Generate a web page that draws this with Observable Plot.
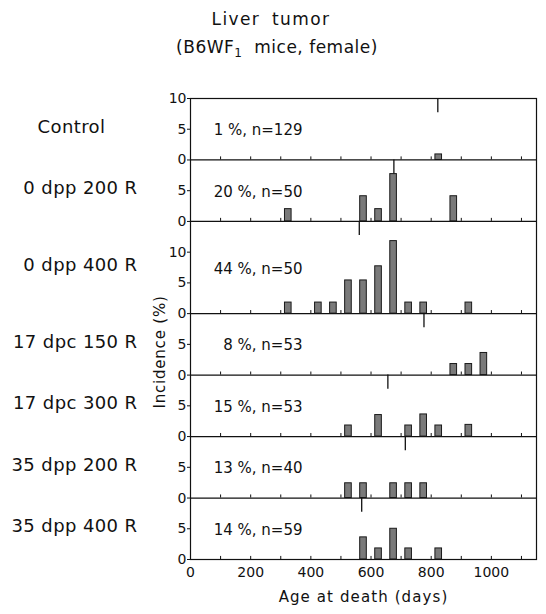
<!DOCTYPE html>
<html>
<head>
<meta charset="utf-8">
<script src="https://cdn.jsdelivr.net/npm/d3@7"></script>
<script src="https://cdn.jsdelivr.net/npm/@observablehq/plot@0.6"></script>
<style>
  html, body { margin: 0; padding: 0; background: #fff; }
  body { width: 546px; height: 614px; overflow: hidden; font-family: "DejaVu Sans", sans-serif; color: #111; }
  #title { position: relative; height: 80px; width: 546px; }
  #title div { position: absolute; left: 0; width: 546px; text-align: center; font-size: 17px; line-height: 20px; }
  #t1 { top: 9px; margin-left: -2px; letter-spacing: 1.4px; word-spacing: 5px; }
  #t2 { top: 37px; margin-left: 4px; letter-spacing: 0.5px; }
  #t2 sub { font-size: 12px; vertical-align: -4px; line-height: 0; }
  #chart svg { display: block; }
</style>
</head>
<body>
<div id="title">
  <div id="t1">Liver tumor</div>
  <div id="t2">(B6WF<sub>1</sub>&nbsp; mice, female)</div>
</div>
<div id="chart"></div>
<script>
// ---- data ----
const groups = ["Control", "0 dpp 200 R", "0 dpp 400 R", "17 dpc 150 R", "17 dpc 300 R", "35 dpp 200 R", "35 dpp 400 R"];
const panelTop = [10, 10, 15, 10, 10, 10, 10];          // y-domain top of each panel (%)
const notes = ["1 %, n=129", "20 %, n=50", "44 %, n=50", "8 %, n=53", "15 %, n=53", "13 %, n=40", "14 %, n=59"];
const medianAge = [822, 676, 561, 776, 656, 714, 569];   // marker lines hanging from panel tops (days)
const ages = [
  [825],
  [325, 575, 625, 675, 875],
  [325, 425, 475, 525, 575, 625, 675, 725, 775, 925],
  [875, 925, 975],
  [525, 625, 725, 775, 825, 925],
  [525, 575, 675, 725, 775],
  [575, 625, 675, 725, 825]
];
const incidence = [
  [0.9],
  [2.0, 4.1, 2.0, 7.7, 4.1],
  [1.8, 1.8, 1.8, 5.4, 5.4, 7.7, 11.8, 1.8, 1.8, 1.8],
  [1.8, 1.8, 3.6],
  [1.8, 3.5, 1.8, 3.6, 1.8, 1.9],
  [2.4, 2.4, 2.4, 2.4, 2.4],
  [3.6, 1.8, 5.0, 1.8, 1.8]
];
const xTickLabels = [0, 200, 400, 600, 800, 1000];
const minorTicks = [100, 200, 300, 400, 500, 600, 700, 800, 900, 1000, 1100];
const yTickValues = [0, 5, 10];
const xDomain = [0, 1150];

// ---- derived tables ----
const offset = groups.map((_, i) => d3.sum(panelTop.slice(i + 1)));
const total = d3.sum(panelTop);
const halfBar = 11;
const bars = ages.flatMap((a, i) => a.map((age, k) => ({age, pct: incidence[i][k], base: offset[i]})));
const yTicks = groups.flatMap((g, i) =>
  yTickValues.filter(v => v < panelTop[i] || i === 0).map(v => ({pos: offset[i] + v, label: v})));
const yLabel = new Map(yTicks.map(d => [d.pos, d.label]));
const minor = groups.flatMap((g, i) => minorTicks.map(t => ({t, base: offset[i]})));
const panels = groups.map((g, i) => ({
  name: g, note: notes[i], med: medianAge[i],
  base: offset[i], top: offset[i] + panelTop[i], max: panelTop[i]
}));
const ink = "#111";

const chart = Plot.plot({
  width: 546,
  height: 534,
  marginLeft: 190,
  marginRight: 10,
  marginTop: 18,
  marginBottom: 55,
  style: {fontFamily: "DejaVu Sans, sans-serif", fontSize: "14px", color: ink, background: "#fff"},
  x: {domain: xDomain},
  y: {domain: [0, total]},
  marks: [
    Plot.rectY(bars, {
      x1: d => d.age - halfBar, x2: d => d.age + halfBar,
      y1: "base", y2: d => d.base + d.pct,
      fill: "#7a7a7a", stroke: "#1a1a1a", strokeWidth: 1
    }),
    Plot.ruleX(minor, {x: "t", y1: "base", y2: d => d.base + 0.5, stroke: ink, strokeWidth: 1}),
    Plot.ruleX(panels, {x: "med", y1: "top", y2: d => d.top - 2.3, stroke: ink, strokeWidth: 1.3}),
    Plot.ruleY(offset.filter(o => o > 0), {stroke: ink, strokeWidth: 1.2}),
    Plot.frame({stroke: ink, strokeWidth: 1.2}),
    Plot.axisY({ticks: yTicks.map(d => d.pos), tickFormat: p => yLabel.get(p),
      tickSize: 3, tickPadding: 1, label: null, fontSize: 14}),
    Plot.axisX({ticks: xTickLabels, tickFormat: d => String(d), tickSize: 0, tickPadding: 8,
      label: null, fontSize: 14}),
    Plot.text(panels, {y: d => d.base + 0.48 * d.max, text: "note", frameAnchor: "left",
      dx: 112, textAnchor: "end", fontSize: 15, fill: ink}),
    Plot.text(panels.slice(0, 1), {y: d => d.base + d.max / 2 + 0.4, text: "name", frameAnchor: "left",
      dx: -119, textAnchor: "middle", fontSize: 18, fill: ink}),
    Plot.text(panels.slice(1), {y: d => d.base + d.max / 2 + 0.4, text: "name", frameAnchor: "left",
      dx: -53, textAnchor: "end", fontSize: 18, fill: ink}),
    Plot.text(["Incidence (%)"], {text: d => d, frameAnchor: "left", textAnchor: "middle",
      lineAnchor: "middle", rotate: -90, dx: -30, dy: 23, fontSize: 15, fill: ink}),
    Plot.text(["Age at death (days)"], {text: d => d, frameAnchor: "bottom", textAnchor: "middle",
      lineAnchor: "middle", dy: 38, fontSize: 15, fill: ink})
  ]
});
document.getElementById("chart").appendChild(chart);
// letter spacing for the wide-set labels of the original
chart.querySelectorAll("text").forEach(t => {
  const txt = t.textContent;
  if (txt === "Age at death (days)") t.setAttribute("letter-spacing", "1.1");
  else if (txt === "Incidence (%)") t.setAttribute("letter-spacing", "0.8");
  else if (groups.includes(txt)) t.setAttribute("letter-spacing", "0.4");
});
</script>
</body>
</html>
